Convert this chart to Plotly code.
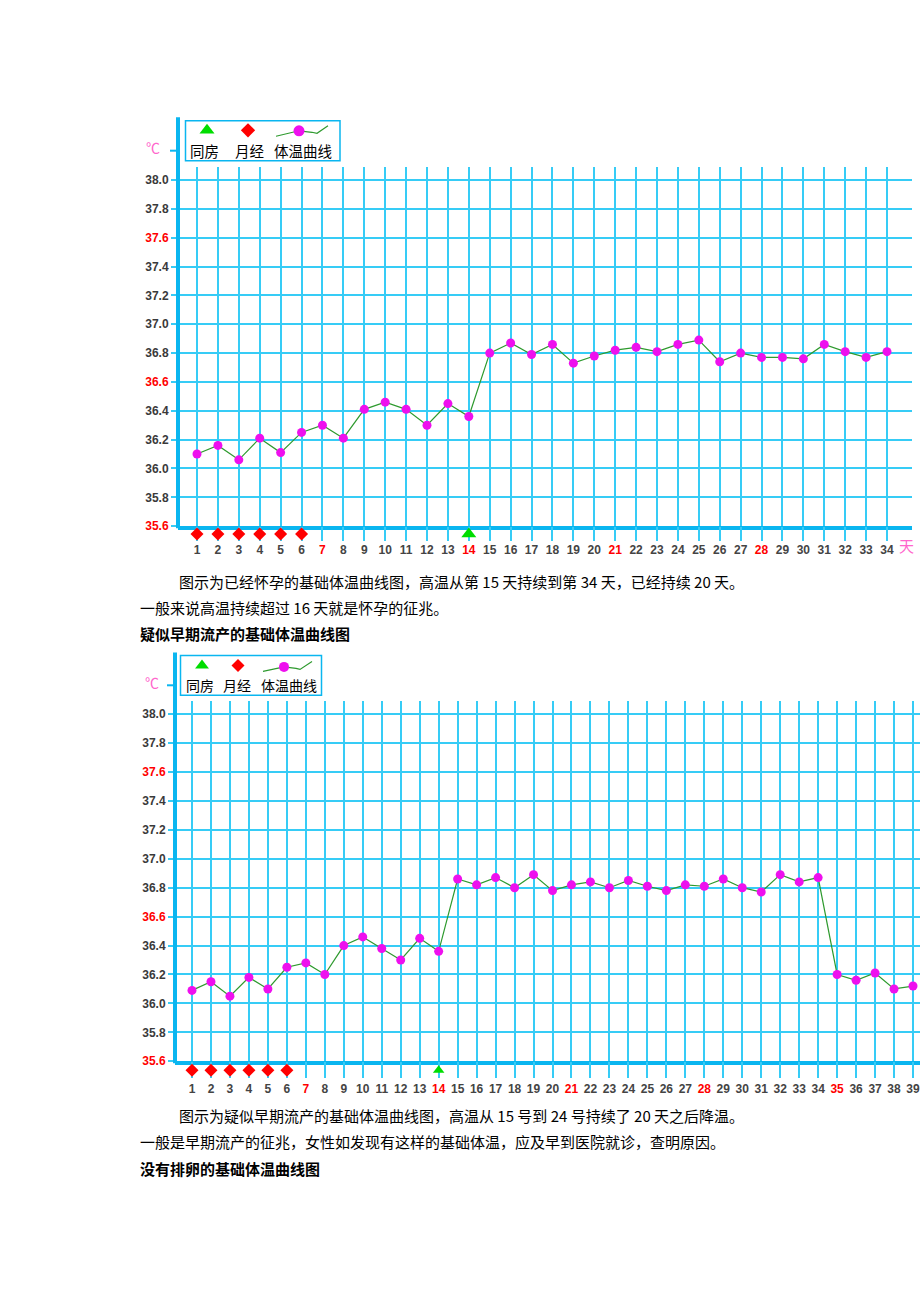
import plotly.graph_objects as go

W, H = 920, 1302

# ---------------- data ----------------
days1 = list(range(1, 35))
temps1 = [36.10, 36.16, 36.06, 36.21, 36.11, 36.25, 36.30, 36.21, 36.41, 36.46,
          36.41, 36.30, 36.45, 36.36, 36.80, 36.87, 36.79, 36.86, 36.73, 36.78,
          36.82, 36.84, 36.81, 36.86, 36.89, 36.74, 36.80, 36.77, 36.77, 36.76,
          36.86, 36.81, 36.77, 36.81]
days2 = list(range(1, 40))
temps2 = [36.09, 36.15, 36.05, 36.18, 36.10, 36.25, 36.28, 36.20, 36.40, 36.46,
          36.38, 36.30, 36.45, 36.36, 36.86, 36.82, 36.87, 36.80, 36.89, 36.78,
          36.82, 36.84, 36.80, 36.85, 36.81, 36.78, 36.82, 36.81, 36.86, 36.80,
          36.77, 36.89, 36.84, 36.87, 36.20, 36.16, 36.21, 36.10, 36.12]
menses_days = [1, 2, 3, 4, 5, 6]
intercourse_days = [14]
y_ticks = [35.6, 35.8, 36.0, 36.2, 36.4, 36.6, 36.8, 37.0, 37.2, 37.4, 37.6, 37.8, 38.0]
y_red = [35.6, 36.6, 37.6]
x_red = [7, 14, 21, 28, 35]
legend_labels = ["同房", "月经", "体温曲线"]
text1 = ["图示为已经怀孕的基础体温曲线图，高温从第 15 天持续到第 34 天，已经持续 20 天。",
         "一般来说高温持续超过 16 天就是怀孕的征兆。",
         "疑似早期流产的基础体温曲线图"]
text2 = ["图示为疑似早期流产的基础体温曲线图，高温从 15 号到 24 号持续了 20 天之后降温。",
         "一般是早期流产的征兆，女性如发现有这样的基础体温，应及早到医院就诊，查明原因。",
         "没有排卵的基础体温曲线图"]

GRID = "#36CCF6"
AXIS = "#0AB6F0"
LINE = "#2E9A2E"
DOT = "#EE10EE"
PINK = "#FF66CC"
CJK = "Noto Sans CJK SC"
LAT = "Arial, Liberation Sans, sans-serif"


def fx(px):
    return px / W


def fy(py):
    return 1 - py / H


def ylab(v):
    s = f"{v:.1f}"
    if any(abs(v - r) < 1e-6 for r in y_red):
        return f"<b><span style='color:#FF0000'>{s}</span></b>"
    return f"<b>{s}</b>"


def xlab(d):
    if d in x_red:
        return f"<b><span style='color:#FF0000'>{d}</span></b>"
    return f"<b>{d}</b>"


fig = go.Figure()

charts = [
    dict(days=days1, temps=temps1, ax=178, d1=197, step=20.909, y38=181, y356=529,
         top=168, right=912, band=(530, 544), tri_size=13, dia_size=10, standoff=9,
         xa="x", ya="y", ba="y4"),
    dict(days=days2, temps=temps2, ax=175, d1=192, step=18.974, y38=718, y356=1067,
         top=705, right=920, band=(1068, 1084), tri_size=10, dia_size=10, standoff=13,
         xa="x2", ya="y2", ba="y5"),
]

layout_axes = {}
for i, c in enumerate(charts):
    ppd = (c["y356"] - c["y38"]) / 2.4
    x0 = 1 - (c["d1"] - c["ax"]) / c["step"]
    x1 = 1 + (c["right"] - c["d1"]) / c["step"]
    ytop = 38.0 + (c["y38"] - c["top"]) / ppd
    sfx = "" if i == 0 else "2"
    layout_axes["xaxis" + sfx] = dict(
        domain=[fx(c["ax"]), fx(c["right"])], range=[x0, x1],
        tickvals=c["days"], ticktext=[xlab(d) for d in c["days"]],
        showgrid=True, gridcolor=GRID, gridwidth=2, zeroline=False,
        showline=True, linecolor=AXIS, linewidth=4, ticks="",
        ticklabelstandoff=c["standoff"], ticklabeloverflow="allow",
        tickfont=dict(family=LAT, size=12, color="#444444"),
        anchor="y" + sfx, fixedrange=True)
    layout_axes["yaxis" + sfx] = dict(
        domain=[fy(c["y356"]), fy(c["top"])], range=[35.6, ytop],
        tickvals=y_ticks, ticktext=[ylab(v) for v in y_ticks],
        showgrid=True, gridcolor=GRID, gridwidth=2, zeroline=False,
        showline=False, ticks="outside", ticklen=6, tickcolor=GRID, tickwidth=2,
        tickfont=dict(family=LAT, size=12, color="#3A3A3A"),
        anchor="x" + sfx, fixedrange=True)
    layout_axes["yaxis" + c["ba"][1:]] = dict(
        domain=[fy(c["band"][1]), fy(c["band"][0])], range=[-1, 1],
        visible=False, anchor="x" + sfx, fixedrange=True)

    fig.add_trace(go.Scatter(x=c["days"], y=c["temps"], mode="lines+markers",
                             line=dict(color=LINE, width=1.2),
                             marker=dict(color=DOT, size=9),
                             xaxis=c["xa"], yaxis=c["ya"], showlegend=False,
                             cliponaxis=False))
    fig.add_trace(go.Scatter(x=menses_days, y=[0] * len(menses_days), mode="markers",
                             marker=dict(symbol="diamond", color="#FF0000", size=c["dia_size"]),
                             xaxis=c["xa"], yaxis=c["ba"], showlegend=False, cliponaxis=False))
    fig.add_trace(go.Scatter(x=intercourse_days, y=[0] * len(intercourse_days), mode="markers",
                             marker=dict(symbol="triangle-up", color="#00DD00", size=c["tri_size"]),
                             xaxis=c["xa"], yaxis=c["ba"], showlegend=False, cliponaxis=False))

fig.update_layout(**layout_axes)

fig.update_layout(
    xaxis3=dict(domain=[0, 1], range=[0, W], visible=False, anchor="y3", fixedrange=True),
    yaxis3=dict(domain=[0, 1], range=[H, 0], visible=False, anchor="x3", fixedrange=True),
)

shapes = []
annotations = []

legends = [
    dict(box=(185.5, 121.5, 340, 161.5), tri=(207, 131), dia=(248, 131),
         path=[(276, 137), (293, 133), (299, 131.5), (312, 133), (317, 134), (328, 126.5)],
         dot=(299, 131.5), ty=151.5, tx=[204, 249, 302.5], fs=14.5, tsz=13, dsz=11, csz=11,
         celsius=(153, 148), tick_y=151.5, ax=178, axtop=118, axbot=531),
    dict(box=(180.5, 659, 321.5, 699), tri=(202, 669), dia=(238, 669),
         path=[(263, 675), (278, 672), (284, 670.5), (296, 672), (300, 673), (312, 665)],
         dot=(284, 670.5), ty=689, tx=[200, 237, 289], fs=14, tsz=12, dsz=10, csz=10,
         celsius=(152, 686), tick_y=689, ax=175, axtop=656, axbot=1069),
]

for lg in legends:
    x0, y0, x1, y1 = lg["box"]
    shapes.append(dict(type="rect", xref="paper", yref="paper",
                       x0=fx(x0), x1=fx(x1), y0=fy(y1), y1=fy(y0),
                       line=dict(color=AXIS, width=1.5), fillcolor="white", layer="below"))
    shapes.append(dict(type="line", xref="paper", yref="paper",
                       x0=fx(lg["ax"]), x1=fx(lg["ax"]), y0=fy(lg["axbot"]), y1=fy(lg["axtop"]),
                       line=dict(color=AXIS, width=4), layer="above"))
    shapes.append(dict(type="line", xref="paper", yref="paper",
                       x0=fx(lg["ax"] - 8), x1=fx(lg["ax"]), y0=fy(lg["tick_y"]), y1=fy(lg["tick_y"]),
                       line=dict(color=AXIS, width=2), layer="above"))
    px = [p[0] for p in lg["path"]]
    py = [p[1] for p in lg["path"]]
    fig.add_trace(go.Scatter(x=px, y=py, mode="lines", line=dict(color=LINE, width=1.2),
                             xaxis="x3", yaxis="y3", showlegend=False, hoverinfo="skip"))
    fig.add_trace(go.Scatter(x=[lg["dot"][0]], y=[lg["dot"][1]], mode="markers",
                             marker=dict(color=DOT, size=lg["csz"]),
                             xaxis="x3", yaxis="y3", showlegend=False, hoverinfo="skip"))
    fig.add_trace(go.Scatter(x=[lg["tri"][0]], y=[lg["tri"][1]], mode="markers",
                             marker=dict(symbol="triangle-up", color="#00DD00", size=lg["tsz"]),
                             xaxis="x3", yaxis="y3", showlegend=False, hoverinfo="skip"))
    fig.add_trace(go.Scatter(x=[lg["dia"][0]], y=[lg["dia"][1]], mode="markers",
                             marker=dict(symbol="diamond", color="#FF0000", size=lg["dsz"]),
                             xaxis="x3", yaxis="y3", showlegend=False, hoverinfo="skip"))
    for t, x in zip(legend_labels, lg["tx"]):
        annotations.append(dict(text=t, x=fx(x), y=fy(lg["ty"]), xref="paper", yref="paper",
                                xanchor="center", yanchor="middle", showarrow=False,
                                font=dict(family=CJK, size=lg["fs"], color="#000000")))
    annotations.append(dict(text="℃", x=fx(lg["celsius"][0]), y=fy(lg["celsius"][1]),
                            xref="paper", yref="paper", xanchor="center", yanchor="middle",
                            showarrow=False, font=dict(family=CJK, size=14, color=PINK)))

annotations.append(dict(text="天", x=fx(906), y=fy(548), xref="paper", yref="paper",
                        xanchor="center", yanchor="middle", showarrow=False,
                        font=dict(family=CJK, size=15, color=PINK)))

for texts, ys in ((text1, (585, 611, 637)), (text2, (1122, 1148, 1175))):
    for j, (t, yy) in enumerate(zip(texts, ys)):
        xx = 177 if j == 0 else 138
        if j == 2:
            t = f"<b>{t}</b>"
        annotations.append(dict(text=t, x=fx(xx), y=fy(yy), xref="paper", yref="paper",
                                xanchor="left", yanchor="middle", showarrow=False,
                                font=dict(family=CJK, size=15, color="#000000")))

fig.update_layout(
    width=W, height=H, autosize=False,
    margin=dict(l=0, r=0, t=0, b=0, pad=0),
    paper_bgcolor="white", plot_bgcolor="rgba(0,0,0,0)",
    showlegend=False, shapes=shapes, annotations=annotations,
    hovermode=False,
)

fig.write_html("out.html", config=dict(displayModeBar=False))
